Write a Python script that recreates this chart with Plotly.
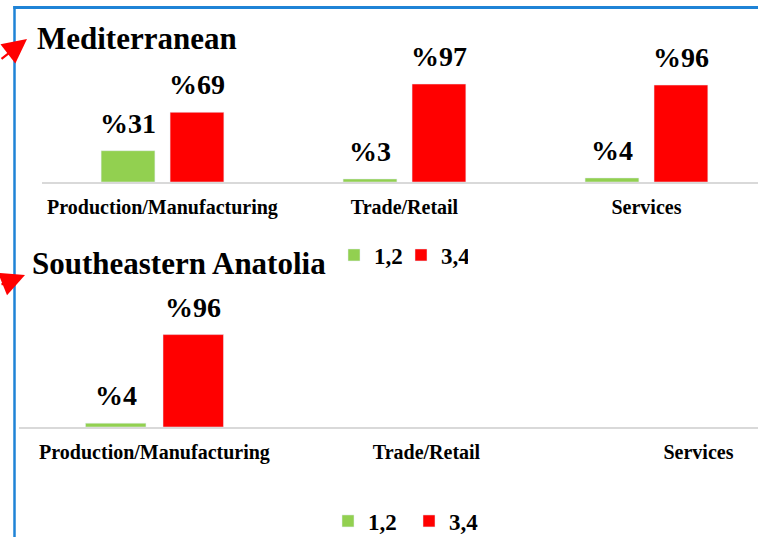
import plotly.graph_objects as go

# ---- data ----
categories = ["Production/Manufacturing", "Trade/Retail", "Services"]
series_names = ["1,2", "3,4"]
med_12 = [31, 3, 4]
med_34 = [69, 97, 96]
sea_12 = [4, None, None]
sea_34 = [96, None, None]
title_top = "Mediterranean"
title_bottom = "Southeastern Anatolia"

GREEN = "#92d050"
RED = "#ff0000"
FONT = "Liberation Serif"
W, H = 758, 537


def px(x):
    return x / W


def py(y):
    return 1 - y / H


fig = go.Figure()

# top chart
fig.add_trace(go.Bar(x=categories, y=med_12, name=f"<b>{series_names[0]}</b>", marker_color=GREEN,
                     xaxis="x", yaxis="y", legend="legend"))
fig.add_trace(go.Bar(x=categories, y=med_34, name=f"<b>{series_names[1]}</b>", marker_color=RED,
                     xaxis="x", yaxis="y", legend="legend"))
# bottom chart
fig.add_trace(go.Bar(x=categories, y=sea_12, name=f"<b>{series_names[0]}</b>", marker_color=GREEN,
                     xaxis="x2", yaxis="y2", legend="legend2"))
fig.add_trace(go.Bar(x=categories, y=sea_34, name=f"<b>{series_names[1]}</b>", marker_color=RED,
                     xaxis="x2", yaxis="y2", legend="legend2"))

OFF = 0.1425
annotations = []
for xa, ya, s12, s34 in (("x", "y", med_12, med_34), ("x2", "y2", sea_12, sea_34)):
    for i in range(len(categories)):
        for vals, sign in ((s12, -1), (s34, 1)):
            v = vals[i]
            if v is None:
                continue
            annotations.append(dict(
                x=i + sign * OFF, y=v, xref=xa, yref=ya, text=f"<b>%{v}</b>",
                showarrow=False, yanchor="bottom", yshift=10,
                font=dict(family=FONT, size=28, color="#000000")))

# titles
annotations.append(dict(x=px(35), y=py(39), xref="paper", yref="paper", text=f"<b>{title_top}</b>",
                        showarrow=False, xanchor="left", yanchor="middle",
                        font=dict(family=FONT, size=31, color="#000000")))
annotations.append(dict(x=px(30), y=py(264), xref="paper", yref="paper", text=f"<b>{title_bottom}</b>",
                        showarrow=False, xanchor="left", yanchor="middle",
                        font=dict(family=FONT, size=31, color="#000000")))
# red arrows
annotations.append(dict(x=px(27), y=py(39), xref="paper", yref="paper", text="",
                        showarrow=True, arrowhead=2, arrowsize=2.2, arrowwidth=2.2,
                        arrowcolor=RED, ax=-40, ay=21))
annotations.append(dict(x=px(25), y=py(275), xref="paper", yref="paper", text="",
                        showarrow=True, arrowhead=2, arrowsize=2.2, arrowwidth=2.2,
                        arrowcolor=RED, ax=-40, ay=10))

shapes = [
    dict(type="line", xref="paper", yref="paper", x0=px(14.5), x1=px(14.5), y0=0, y1=py(6),
         line=dict(color="#1f83d6", width=2.5)),
    dict(type="line", xref="paper", yref="paper", x0=px(13.3), x1=1, y0=py(7.5), y1=py(7.5),
         line=dict(color="#1f83d6", width=3)),
]

tickfont = dict(family=FONT, size=20, color="#000000", weight="bold")
legfont = dict(family=FONT, size=23, color="#000000", weight="bold")

fig.update_layout(
    width=W, height=H,
    margin=dict(l=0, r=0, t=0, b=0, autoexpand=False),
    paper_bgcolor="white", plot_bgcolor="white",
    barmode="group", bargap=0.43, bargroupgap=0.22,
    xaxis=dict(domain=[px(41.5), 1], range=[-0.5, 2.461], type="category",
               categoryarray=categories, categoryorder="array",
               showline=True, linecolor="#d9d9d9", linewidth=2, showgrid=False,
               ticks="", tickfont=tickfont, ticklabelstandoff=6, anchor="y",
               automargin=False),
    yaxis=dict(domain=[py(182), py(40)], range=[0, 140.6], visible=False, anchor="x"),
    xaxis2=dict(domain=[px(18.5), 1], range=[-0.5, 2.219], type="category",
                categoryarray=categories, categoryorder="array",
                showline=True, linecolor="#d9d9d9", linewidth=2, showgrid=False,
                ticks="", tickfont=tickfont, ticklabelstandoff=6, anchor="y2",
                automargin=False),
    yaxis2=dict(domain=[py(427), py(290)], range=[0, 142.3], visible=False, anchor="x2"),
    showlegend=True,
    legend=dict(orientation="h", x=px(401), y=py(255), xanchor="center", yanchor="middle",
                font=legfont, entrywidth=22, bgcolor="rgba(0,0,0,0)"),
    legend2=dict(orientation="h", x=px(409), y=py(521), xanchor="center", yanchor="middle",
                 font=legfont, entrywidth=36, bgcolor="rgba(0,0,0,0)"),
    annotations=annotations,
    shapes=shapes,
)

fig.write_html("out.html", config={"displayModeBar": False},
               post_script="document.body.style.margin='0';")
